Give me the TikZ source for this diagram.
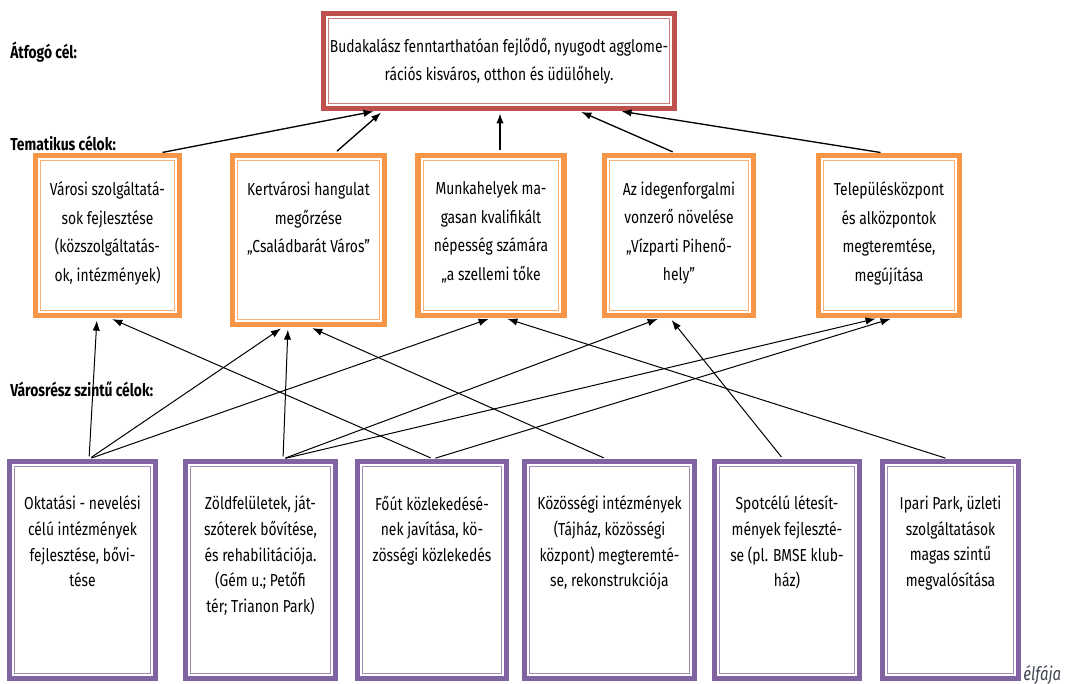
\documentclass[tikz,border=0pt]{standalone}
\usepackage{fontspec}
\setmainfont{Fira Sans}[FakeStretch=0.8]
\usetikzlibrary{arrows.meta,positioning,calc}
\definecolor{GoalRed}{HTML}{C0504D}
\definecolor{ThemeOrange}{HTML}{F79646}
\definecolor{DistPurple}{HTML}{8064A2}
\definecolor{NoteGray}{HTML}{404552}

\begin{document}
\begin{tikzpicture}[x=0.75pt, y=-0.75pt,
  goalbox/.style={draw=#1, line width=3.9pt, fill=white, inner sep=0pt,
    path picture={\draw[#1!75!white, line width=0.8pt]
      ([shift={(3.9pt,3.9pt)}]path picture bounding box.south west) rectangle
      ([shift={(-3.9pt,-3.9pt)}]path picture bounding box.north east);}},
  topbox/.style={goalbox=GoalRed, minimum width=263pt, minimum height=71pt,
                 align=center, font=\fontsize{13}{21}\selectfont},
  themebox/.style={goalbox=ThemeOrange, minimum height=120pt, minimum width=#1},
  distbox/.style={goalbox=DistPurple, minimum height=162.75pt, minimum width=#1},
  themetext/.style={anchor=north, align=center, inner sep=0pt,
                    font=\fontsize{13}{21.4}\selectfont, execute at begin node=\strut},
  disttext/.style={anchor=north, align=center, inner sep=0pt,
                   font=\fontsize{13}{19.3}\selectfont, execute at begin node=\strut},
  level/.style={anchor=west, inner sep=0pt, font=\bfseries\fontsize{13}{15}\selectfont},
  up/.style={-{Latex[length=7.5pt,width=5.5pt]}, line width=0.75pt,
             shorten >=1.9pt, shorten <=1.9pt},
  uptop/.style={up, line width=1pt}
]
\fill[white] (0,0) rectangle (1070,684);
\useasboundingbox (0,0) rectangle (1070,684);

% level labels
\node[level] (lvl1) at (10,52) {Átfogó cél:};
\node[level] (lvl2) at (10,143) {Tematikus célok:};
\node[level] (lvl3) at (10,389) {Városrész szintű célok:};

% overall goal
\node[topbox] (top) at (499,61)
  {Budakalász fenntarthatóan fejlődő, nyugodt agglome-\\rációs kisváros, otthon és üdülőhely.};

% thematic goals
\node[themebox=108pt] (t1) at (107.5,235.5) {};
\node[themebox=114pt, minimum height=126.75pt] (t2) at (308.5,240) {};
\node[themebox=109.5pt] (t3) at (491,235.5) {};
\node[themebox=111.75pt] (t4) at (679,235.5) {};
\node[themebox=105.75pt] (t5) at (889,235.5) {};

\node[themetext] (t1txt) at ([yshift=-21.5pt]t1.north)
  {Városi szolgáltatá-\\sok fejlesztése\\(közszolgáltatás-\\ok, intézmények)};
\node[themetext] (t2txt) at ([yshift=-21.5pt]t2.north)
  {Kertvárosi hangulat\\megőrzése\\„Családbarát Város”};
\node[themetext] (t3txt) at ([yshift=-21.5pt]t3.north)
  {Munkahelyek ma-\\gasan kvalifikált\\népesség számára\\„a szellemi tőke};
\node[themetext] (t4txt) at ([yshift=-21.5pt]t4.north)
  {Az idegenforgalmi\\vonzerő növelése\\„Vízparti Pihenő-\\hely”};
\node[themetext] (t5txt) at ([yshift=-21.5pt]t5.north)
  {Településközpont\\és alközpontok\\megteremtése,\\megújítása};

% district level goals
\node[distbox=109.5pt] (p1) at (82.5,570) {};
\node[distbox=112.5pt] (p2) at (260.5,570) {};
\node[distbox=111.75pt] (p3) at (432,570) {};
\node[distbox=127.5pt] (p4) at (609.5,570) {};
\node[distbox=108.75pt] (p5) at (787,570) {};
\node[distbox=102pt] (p6) at (950.5,570) {};

\node[disttext] (p1txt) at ([yshift=-27.5pt]p1.north)
  {Oktatási - nevelési\\célú intézmények\\fejlesztése, bővi-\\tése};
\node[disttext] (p2txt) at ([yshift=-27.5pt]p2.north)
  {Zöldfelületek, ját-\\szóterek bővítése,\\és rehabilitációja.\\(Gém u.; Petőfi\\tér; Trianon Park)};
\node[disttext] (p3txt) at ([yshift=-27.5pt]p3.north)
  {Főút közlekedésé-\\nek javítása, kö-\\zösségi közlekedés};
\node[disttext] (p4txt) at ([yshift=-27.5pt]p4.north)
  {Közösségi intézmények\\(Tájház, közösségi\\központ) megteremté-\\se, rekonstrukciója};
\node[disttext] (p5txt) at ([yshift=-27.5pt]p5.north)
  {Spotcélú létesít-\\mények fejleszté-\\se (pl. BMSE klub-\\ház)};
\node[disttext] (p6txt) at ([yshift=-27.5pt]p6.north)
  {Ipari Park, üzleti\\szolgáltatások\\magas szintű\\megvalósítása};

% thematic -> overall
\draw[uptop] ([xshift=39.4pt]t1.north) -- ([xshift=-92.25pt]top.south);
\draw[uptop] ([xshift=19.9pt]t2.north) -- ([xshift=-87pt]top.south);
\draw[uptop] ([xshift=6.75pt]t3.north) -- ([xshift=0.75pt]top.south);
\draw[uptop] ([xshift=-3pt]t4.north) -- ([xshift=60pt]top.south);
\draw[uptop] ([xshift=-4.5pt]t5.north) -- ([xshift=90pt]top.south);

% district -> thematic
\draw[up] ([xshift=4.9pt]p1.north) -- ([xshift=-7.9pt]t1.south);
\draw[up] ([xshift=4.9pt]p1.north) -- ([xshift=-19.1pt]t2.south);
\draw[up] ([xshift=4.9pt]p1.north) -- (t3.south);
\draw[up] ([xshift=16.9pt]p2.north) -- ([xshift=-15.4pt]t2.south);
\draw[up] ([xshift=16.9pt]p2.north) -- ([xshift=-14.25pt]t4.south);
\draw[up] ([xshift=16.9pt]p2.north) -- ([xshift=-8.25pt]t5.south);
\draw[up] ([xshift=0.75pt]p3.north) -- ([xshift=1.9pt]t1.south);
\draw[up] ([xshift=0.75pt]p3.north) -- ([xshift=3pt]t5.south);
\draw[up] ([xshift=-2.6pt]p4.north) -- ([xshift=1.1pt]t2.south);
\draw[up] ([xshift=-3pt]p5.north) -- ([xshift=-6.75pt]t4.south);
\draw[up] ([xshift=-1.9pt]p6.north) -- ([xshift=10.5pt]t3.south);

% cut caption
\node[anchor=base west, inner sep=0pt, text=NoteGray,
      font=\itshape\fontsize{14}{16}\selectfont] (capt) at (1023,680) {élfája};
\end{tikzpicture}
\end{document}
